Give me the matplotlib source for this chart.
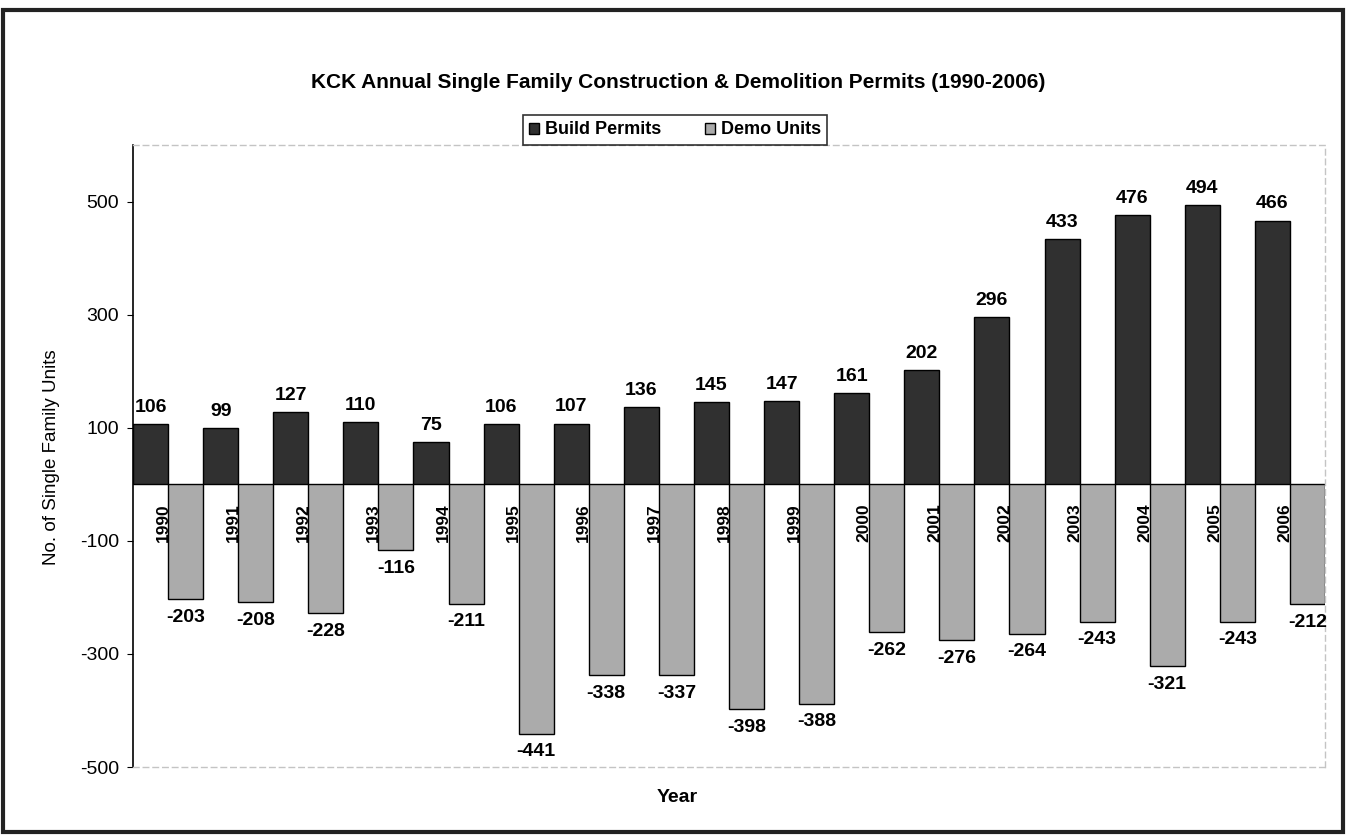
import numpy as np
import matplotlib
matplotlib.use("Agg")
import matplotlib.pyplot as plt
from matplotlib.patches import Rectangle, Patch

plt.rcParams['font.family'] = ['Liberation Sans', 'DejaVu Sans']

years = list(range(1990, 2007))
build_permits = [106, 99, 127, 110, 75, 106, 107, 136, 145, 147, 161, 202, 296, 433, 476, 494, 466]
demo_units = [-203, -208, -228, -116, -211, -441, -338, -337, -398, -388, -262, -276, -264, -243, -321, -243, -212]
y_ticks = [-500, -300, -100, 100, 300, 500]

build_color = '#303030'
demo_color = '#ababab'

fig = plt.figure(figsize=(13.48, 8.39), dpi=100)
ax = fig.add_axes([133/1348, 1 - 767/839, (1325-133)/1348, (767-145)/839])

x = np.arange(len(years))
w = 0.5
ax.bar(x - w/2, build_permits, width=w, color=build_color, edgecolor='black', linewidth=1)
ax.bar(x + w/2, demo_units, width=w, color=demo_color, edgecolor='black', linewidth=1)

for i, v in enumerate(build_permits):
    ax.annotate(str(v), (x[i] - w/2, v), xytext=(0, 6), textcoords='offset points',
                ha='center', va='bottom', fontsize=14, fontweight='bold')
for i, v in enumerate(demo_units):
    ax.annotate(str(v), (x[i] + w/2, v), xytext=(0, -7), textcoords='offset points',
                ha='center', va='top', fontsize=14, fontweight='bold')
for i, yr in enumerate(years):
    ax.text(x[i] - 0.07, -33, str(yr), rotation=90, ha='center', va='top',
            fontsize=12.5, fontweight='bold')

ax.set_xlim(-0.5, len(years) - 0.5)
ax.set_ylim(-500, 600)
ax.set_yticks(y_ticks)
ax.set_yticklabels([str(t) for t in y_ticks], fontsize=14)
ax.tick_params(axis='y', length=4, width=0.8, pad=6)
ax.set_xticks([])

for side in ['top', 'right', 'bottom']:
    ax.spines[side].set_color('#c4c4c4')
    ax.spines[side].set_linestyle((0, (4, 3)))
    ax.spines[side].set_linewidth(1)
ax.spines['left'].set_linewidth(1.2)

fig.text(678/1348, 1 - 83/839,
         'KCK Annual Single Family Construction & Demolition Permits (1990-2006)',
         ha='center', va='center', fontsize=15, fontweight='bold')
fig.text(52/1348, 1 - 457/839, 'No. of Single Family Units', rotation=90,
         ha='center', va='center', fontsize=13.5)
fig.text(677/1348, 1 - 797/839, 'Year', ha='center', va='center',
         fontsize=14, fontweight='bold')

handles = [Patch(facecolor=build_color, edgecolor='black'),
           Patch(facecolor=demo_color, edgecolor='black')]
leg = fig.legend(handles, ['Build Permits', 'Demo Units'], loc='center',
                 bbox_to_anchor=(675/1348, 1 - 130/839), ncol=2, frameon=True,
                 fancybox=False, edgecolor='black', handlelength=0.55, handleheight=0.55,
                 handletextpad=0.35, columnspacing=2.4, borderpad=0.35, borderaxespad=0,
                 prop={'weight': 'bold', 'size': 13})
leg.get_frame().set_linewidth(1.2)

# outer chart border
fig.patches.append(Rectangle((3/1348, 1 - 832/839), (1343-3)/1348, (832-10)/839,
                             transform=fig.transFigure, fill=False,
                             edgecolor='#222222', linewidth=3))

fig.savefig('out.png', dpi=100)
